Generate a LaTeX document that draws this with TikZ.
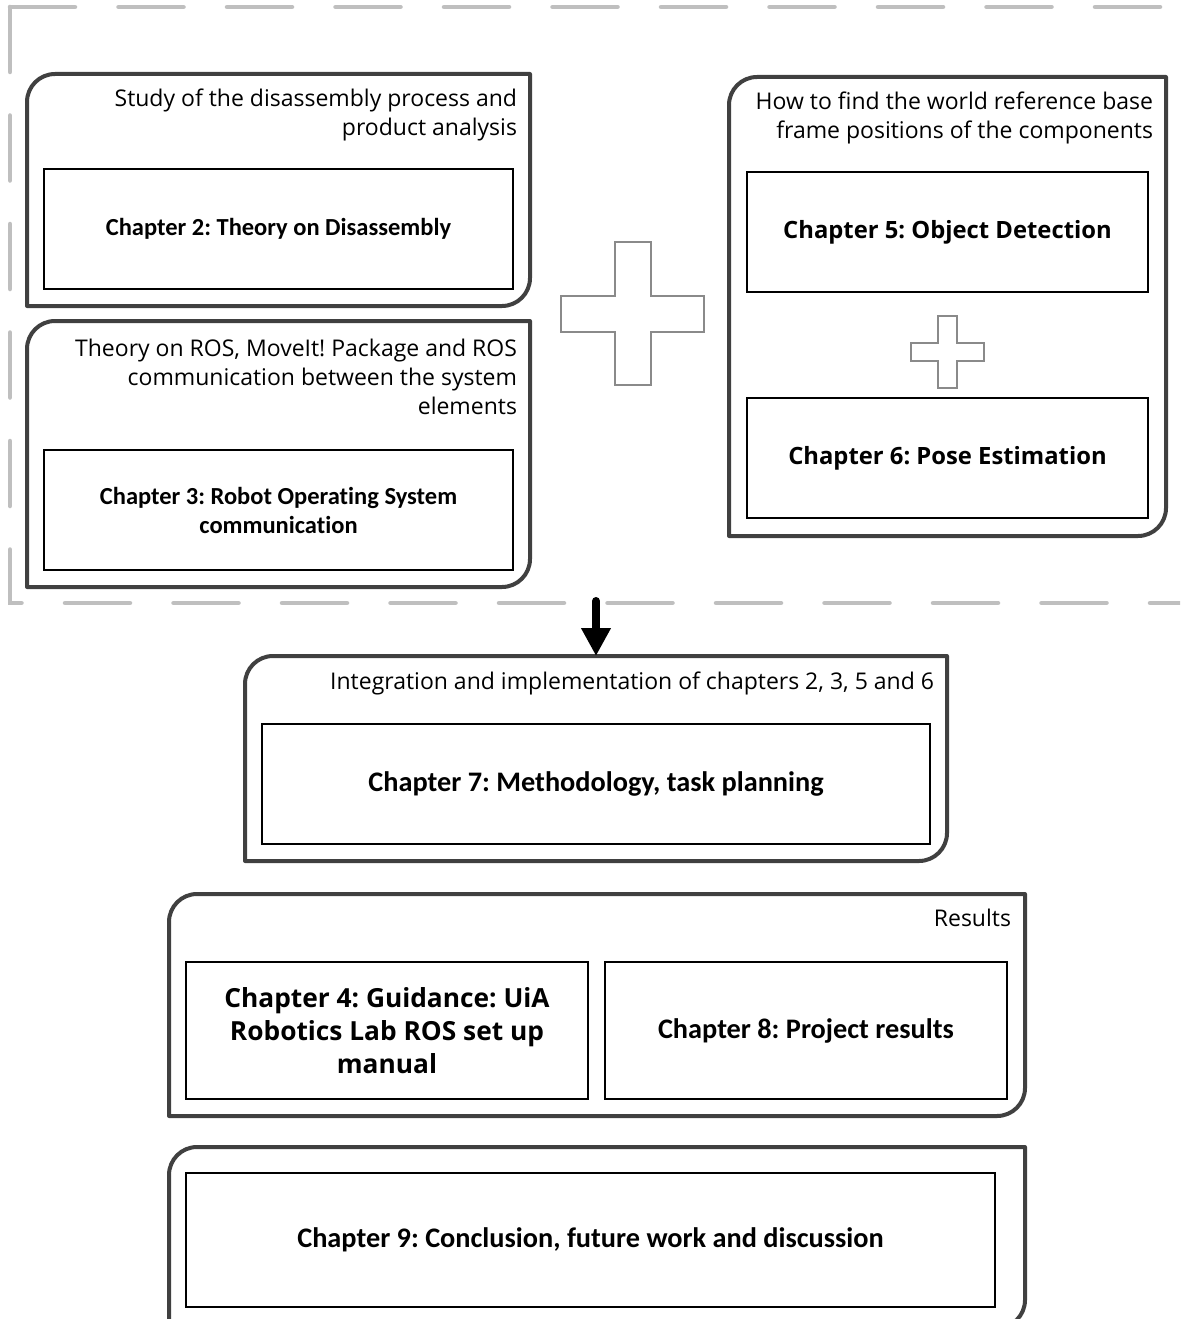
\documentclass[tikz,border=0pt]{standalone}
\usepackage{fontspec}
\setmainfont{Open Sans}
\newfontfamily\carl[Ligatures=CommonOff]{Carlito}
\usetikzlibrary{arrows.meta}
\frenchspacing
\definecolor{frameg}{HTML}{404040}
\definecolor{dashg}{HTML}{BFBFBF}
\definecolor{plusg}{HTML}{8A8A8A}
\tikzset{
  contbox/.style={inner sep=0pt, outer sep=0pt, draw=none},
  contline/.style={draw=frameg, line width=4pt, line join=round},
  chap/.style={draw=black, line width=2.8pt, inner sep=0pt, outer sep=0pt, align=center},
  chapcal/.style={chap, font=\carl\bfseries\fontsize{24.5}{29}\selectfont},
  chapcalbig/.style={chap, font=\carl\bfseries\fontsize{28.3}{33}\selectfont},
  chapopen/.style={chap, font=\bfseries\fontsize{23.8}{33}\selectfont},
  hdr/.style={inner sep=0pt, outer sep=0pt, align=right, font=\fontsize{23}{29}\selectfont},
  plusline/.style={draw=plusg, line width=2pt, fill=white},
  dashframe/.style={draw=dashg, line width=4.5pt, line cap=round, dash pattern=on 65pt off 43.5pt},
  bigarrow/.style={draw=black, line width=8pt, line cap=round, -{Triangle[width=28pt,length=28pt]}}
}
\newcommand\frameit[1]{%
  \draw[contline] (#1.south west) -- ([yshift=-28pt]#1.north west)
    arc[start angle=180, end angle=90, radius=28pt] -- (#1.north east)
    -- ([yshift=28pt]#1.south east)
    arc[start angle=0, end angle=-90, radius=28pt] -- cycle;}
\begin{document}
\begin{tikzpicture}[x=1pt, y=1pt]
\useasboundingbox (0,0) rectangle (1180,-1319);
\clip (0,0) rectangle (1180,-1319);
\fill[white] (0,0) rectangle (1180,-1319);

% dashed group frame
\draw[dashframe] (10,-7) -- (1210,-7);
\draw[dashframe] (10,-7) -- (10,-603) -- (1210,-603);
\coordinate (grpbottom) at (596,-601);

% containers
\node[contbox, minimum width=503pt, minimum height=232pt] (A) at (278.5,-190) {};
\node[contbox, minimum width=503pt, minimum height=266pt] (B) at (278.5,-454) {};
\node[contbox, minimum width=437pt, minimum height=459pt] (C) at (947.5,-306.5) {};
\node[contbox, minimum width=702pt, minimum height=205pt] (D) at (596,-758.5) {};
\node[contbox, minimum width=856pt, minimum height=222pt] (E) at (597,-1005) {};
\node[contbox, minimum width=856pt, minimum height=181pt] (F) at (597,-1237.5) {};
\frameit{A}\frameit{B}\frameit{C}\frameit{D}\frameit{E}\frameit{F}

% headers
\node[hdr, anchor=north east] (hA) at (517,-89) {Study of the disassembly process and\\product analysis};
\node[hdr, anchor=north east] (hB) at (517,-339) {Theory on ROS, MoveIt! Package and ROS\\communication between the system\\elements};
\node[hdr, anchor=north east] (hC) at (1153,-92) {How to find the world reference base\\frame positions of the components};
\node[hdr, anchor=north east] (hD) at (934,-672) {Integration and implementation of chapters 2, 3, 5 and 6};
\node[hdr, anchor=north east] (hE) at (1011,-909) {Results};

% chapter boxes
\node[chapcal, minimum width=469pt, minimum height=120pt] (c2) at (278.5,-229) {Chapter 2: Theory on Disassembly};
\node[chapcal, minimum width=469pt, minimum height=120pt] (c3) at (278.5,-510) {Chapter 3: Robot Operating System\\communication};
\node[chapopen, minimum width=401pt, minimum height=120pt] (c5) at (947.5,-232) {Chapter 5: Object Detection};
\node[chapopen, minimum width=401pt, minimum height=120pt] (c6) at (947.5,-458) {Chapter 6: Pose Estimation};
\node[chapcalbig, minimum width=668pt, minimum height=120pt] (c7) at (596,-784) {Chapter 7: Methodology, task planning};
\node[chapopen, font=\bfseries\fontsize{26.3}{33}\selectfont, minimum width=402pt, minimum height=137pt] (c4) at (387,-1030.5) {Chapter 4: Guidance: UiA\\Robotics Lab ROS set up\\manual};
\node[chapcalbig, minimum width=402pt, minimum height=137pt] (c8) at (806,-1030.5) {Chapter 8: Project results};
\node[chapcalbig, minimum width=809pt, minimum height=134pt] (c9) at (590.5,-1240) {Chapter 9: Conclusion, future work and discussion};

% plus signs
\draw[plusline] (615,-242) -- (651,-242) -- (651,-296) -- (704,-296) -- (704,-332) -- (651,-332) -- (651,-385) -- (615,-385) -- (615,-332) -- (561,-332) -- (561,-296) -- (615,-296) -- cycle;
\draw[plusline] (938,-316) -- (957,-316) -- (957,-343) -- (984,-343) -- (984,-361) -- (957,-361) -- (957,-388) -- (938,-388) -- (938,-361) -- (911,-361) -- (911,-343) -- (938,-343) -- cycle;

% arrow
\draw[bigarrow] (grpbottom) -- (D.north);
\end{tikzpicture}
\end{document}
